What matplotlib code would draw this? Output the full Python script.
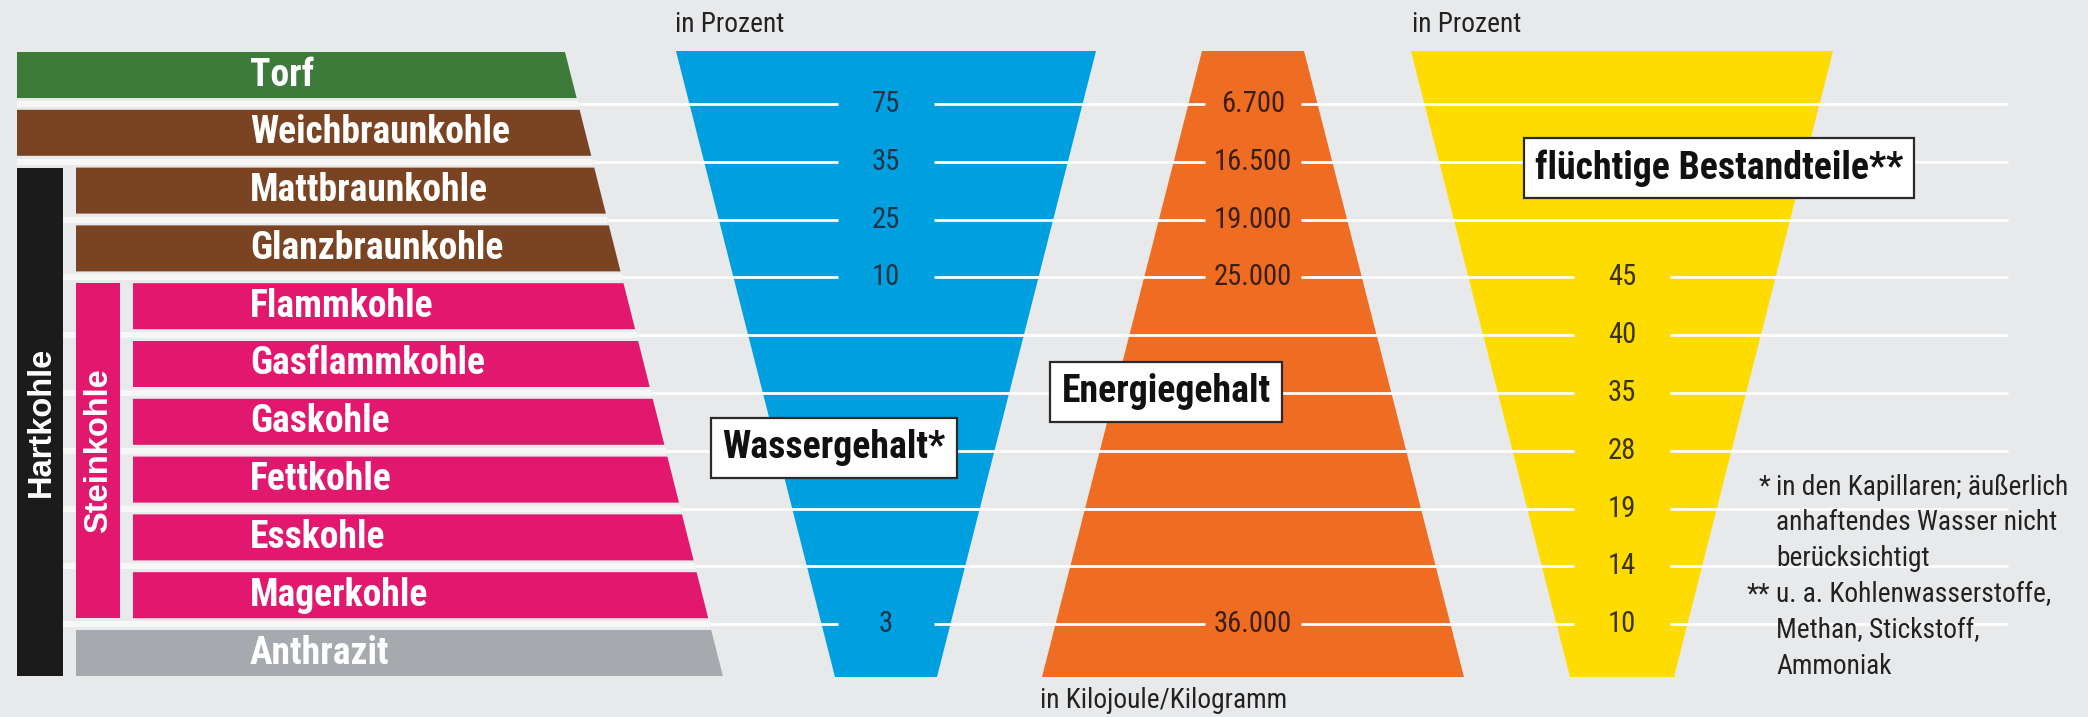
import matplotlib
matplotlib.use("Agg")
import matplotlib.pyplot as plt
from matplotlib import font_manager

# ---------------- data ----------------
categories = ["Torf", "Weichbraunkohle", "Mattbraunkohle", "Glanzbraunkohle",
              "Flammkohle", "Gasflammkohle", "Gaskohle", "Fettkohle",
              "Esskohle", "Magerkohle", "Anthrazit"]
levels = [0, 0, 1, 1, 2, 2, 2, 2, 2, 2, 1]
cat_colors = ["#3d7b3b", "#7a4423", "#7a4423", "#7a4423",
              "#e2176e", "#e2176e", "#e2176e", "#e2176e", "#e2176e", "#e2176e",
              "#a6aaae"]
group_labels = ["Hartkohle", "Steinkohle"]
group_ranges = [(2, 10), (4, 9)]
group_colors = ["#1b1b1b", "#e2176e"]

# values on the 10 separating lines (between the 11 coal types)
wasser = [75, 35, 25, 10, None, None, None, None, None, 3]
energie = [6700, 16500, 19000, 25000, None, None, None, None, None, 36000]
fluechtig = [None, None, None, 45, 40, 35, 28, 19, 14, 10]

titles = ["Wassergehalt*", "Energiegehalt", "flüchtige Bestandteile**"]
units = ["in Prozent", "in Kilojoule/Kilogramm", "in Prozent"]
footnotes = [("*", "in den Kapillaren; äußerlich"), ("", "anhaftendes Wasser nicht"),
             ("", "berücksichtigt"), ("**", "u. a. Kohlenwasserstoffe,"),
             ("", "Methan, Stickstoff,"), ("", "Ammoniak")]

# ---------------- fonts ----------------
names = set(font_manager.get_font_names())
cands = ["Roboto Condensed", "Liberation Sans Narrow", "DejaVu Sans Condensed",
         "Roboto", "Liberation Sans"]
NF = next((c for c in cands if c in names), "DejaVu Sans")
NARROW = [NF, "DejaVu Sans"]
WIDE = ["Liberation Sans", "DejaVu Sans"]

BG = "#e7e9eb"
fig = plt.figure(figsize=(20.88, 7.17), dpi=100)
fig.patch.set_facecolor(BG)
ax = fig.add_axes([0, 0, 1, 1])
ax.set_xlim(0, 2088)
ax.set_ylim(717, 0)
ax.axis("off")
renderer = fig.canvas.get_renderer()

def calib(sample, target_px, weight):
    t = ax.text(0, 0, sample, fontsize=20, family=NARROW, fontweight=weight)
    w = t.get_window_extent(renderer).width
    t.remove()
    return 20 * target_px / w

FS_LABEL = calib("Weichbraunkohle", 260, "bold")
FS_TITLE = calib("flüchtige Bestandteile**", 366, "bold")
FS_NUM = calib("16.500", 78, "normal")
FS_SMALL = calib("in den Kapillaren; äußerlich", 291, "normal")

row_top0, pitch, row_h = 52, 57.8, 46
level_x = [17, 76, 133]
def edge(y):
    return 565 + 0.253 * (y - 52)

tops = [row_top0 + pitch * i for i in range(len(categories))]
bots = [t + row_h for t in tops]
line_y = [bots[i] + 6 for i in range(len(categories) - 1)]

# coal bars
for i, (name, lv, col) in enumerate(zip(categories, levels, cat_colors)):
    t, b = tops[i], bots[i]
    x0 = level_x[lv]
    ax.fill([x0, edge(t), edge(b), x0], [t, t, b, b], color=col, lw=0, zorder=3)
    ax.text(250, (t + b) / 2, name, color="white", fontsize=FS_LABEL, fontweight="bold",
            family=NARROW, va="center", ha="left", zorder=4)

# group bars
gx = [(17, 63), (76, 120)]
for (lab, (a, b), col, (x0, x1)) in zip(group_labels, group_ranges, group_colors, gx):
    y0, y1 = tops[a], bots[b]
    ax.fill([x0, x1, x1, x0], [y0, y0, y1, y1], color=col, lw=0, zorder=3)
    ax.text((x0 + x1) / 2 + 1, (y0 + y1) / 2, lab, color="white", fontsize=23.5,
            fontweight="bold", family=WIDE, rotation=90, va="center", ha="center",
            zorder=4)

# trapezoids
ytop, ybot = 51, 677
trap = [  # center, half width top, half width bottom, colour
    (886, 210, 51, "#009fdf"),
    (1253, 51, 211, "#ef6c23"),
    (1622, 211, 52, "#ffdc00"),
]
for c, ht, hb, col in trap:
    ax.fill([c - ht, c + ht, c + hb, c - hb], [ytop, ytop, ybot, ybot],
            color=col, lw=0, zorder=1)

# separating lines with values
series = [wasser, energie, fluechtig]
num_colors = ["#213445", "#3a1f10", "#3a3300"]
def fmt(v):
    return f"{v:,}".replace(",", ".")

gap = 48
for j, y in enumerate(line_y):
    # light band in the gap between the coal bars
    ax.plot([17, edge(y)], [y, y], color="#f7f7f8", lw=4.5, zorder=2,
            solid_capstyle="butt")
    gaps = []
    for (c, ht, hb, col), vals, nc in zip(trap, series, num_colors):
        v = vals[j]
        if v is not None:
            gaps.append((c - gap, c + gap))
            ax.text(c, y, fmt(v), color=nc, fontsize=FS_NUM, family=NARROW,
                    ha="center", va="center", zorder=4)
    x = edge(y)
    for g0, g1 in sorted(gaps):
        ax.plot([x, g0], [y, y], color="white", lw=2.0, zorder=2,
                solid_capstyle="butt")
        x = g1
    ax.plot([x, 2008], [y, y], color="white", lw=2.0, zorder=2,
            solid_capstyle="butt")

# title boxes
box_pos = [(834, 448), (1166, 392), (1719, 168)]
for (bx, by), t in zip(box_pos, titles):
    ax.text(bx, by, t, color="#111111", fontsize=FS_TITLE, fontweight="bold",
            family=NARROW, ha="center", va="center", zorder=6,
            bbox=dict(boxstyle="square,pad=0.3", facecolor="white",
                      edgecolor="#2a2a2a", lw=1.6))

# unit labels
ax.text(675, 25, units[0], fontsize=FS_SMALL, family=NARROW, color="#222222",
        ha="left", va="center")
ax.text(1040, 700, units[1], fontsize=FS_SMALL, family=NARROW, color="#222222",
        ha="left", va="center")
ax.text(1412, 25, units[2], fontsize=FS_SMALL, family=NARROW, color="#222222",
        ha="left", va="center")

# footnotes
fy0, fdy = 487, 36.0
for k, (mark, txt) in enumerate(footnotes):
    y = fy0 + k * fdy
    if mark:
        ax.text(1770, y, mark, fontsize=FS_SMALL, family=NARROW, color="#222222",
                ha="right", va="center", zorder=5)
    ax.text(1776, y, txt, fontsize=FS_SMALL, family=NARROW, color="#222222",
            ha="left", va="center", zorder=5)

fig.savefig("out.png", dpi=100, facecolor=BG)
